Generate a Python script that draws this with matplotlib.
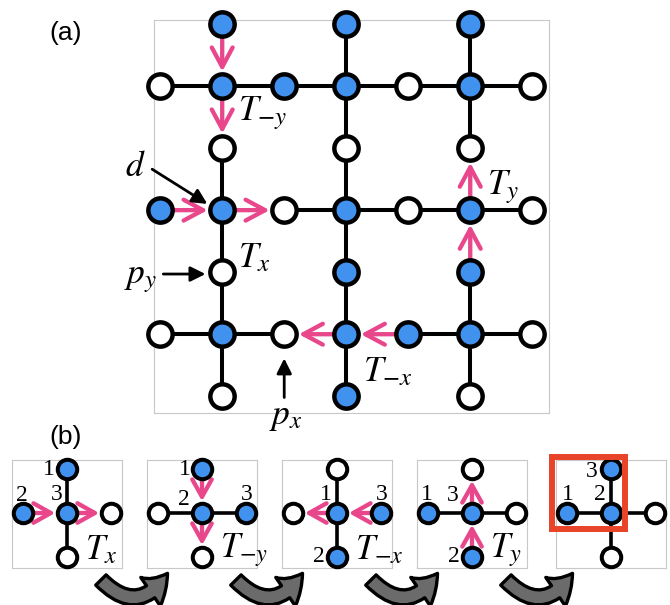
import matplotlib
matplotlib.use('Agg')
import matplotlib.pyplot as plt
from matplotlib.patches import FancyArrowPatch, Rectangle

plt.rcParams['mathtext.fontset'] = 'stix'
plt.rcParams['font.family'] = ['Liberation Sans', 'DejaVu Sans']

# ---------------- data ----------------
# Panel (a) lattice: rows top -> bottom; '.' no site, 'B' occupied (blue), 'W' empty (white)
lattice_a = [
    ". B . B . B .",
    "W B B B W B W",
    ". W . W . W .",
    "B B W B W B W",
    ". W . B . B .",
    "W B W B B B W",
    ". W . B . W .",
]
# hopping arrows (col,row) -> (col,row)
arrows_a = [((1, 0), (1, 1)), ((1, 1), (1, 2)),
            ((0, 3), (1, 3)), ((1, 3), (2, 3)),
            ((4, 5), (3, 5)), ((3, 5), (2, 5)),
            ((5, 4), (5, 3)), ((5, 3), (5, 2))]
labels_a = ["$T_{-y}$", "$T_x$", "$T_y$", "$T_{-x}$"]
labels_a_pos = [(1.26, 1.44), (1.26, 3.77), (5.27, 2.63), (3.27, 5.60)]

# Panel (b) mini lattices (3x3, center = d site)
panels_b = [
    [". B .", "B B W", ". W ."],
    [". B .", "W B B", ". W ."],
    [". W .", "W B B", ". B ."],
    [". W .", "B B W", ". B ."],
    [". B .", "B B W", ". W ."],
]
arrows_b = [
    [((0, 1), (1, 1)), ((1, 1), (2, 1))],
    [((1, 0), (1, 1)), ((1, 1), (1, 2))],
    [((2, 1), (1, 1)), ((1, 1), (0, 1))],
    [((1, 2), (1, 1)), ((1, 1), (1, 0))],
    [],
]
op_labels_b = ["$T_x$", "$T_{-y}$", "$T_{-x}$", "$T_y$", ""]
numbers_b = [["1", "2", "3"], ["1", "2", "3"], ["1", "3", "2"], ["3", "2", "1"], ["3", "1", "2"]]
numbers_b_pos = [
    [(-0.41, -0.98), (-1.02, -0.39), (-0.23, -0.41)],
    [(-0.39, -0.98), (-0.41, -0.30), (1.02, -0.41)],
    [(-0.25, -0.41), (1.02, -0.41), (-0.41, 0.98)],
    [(-0.43, -0.39), (-0.41, 1.0), (-1.02, -0.41)],
    [(-0.43, -0.95), (-0.98, -0.41), (-0.25, -0.41)],
]

# ---------------- style ----------------
BLUE = '#4191EF'
PINK = '#E8478C'
RED = '#E8442A'
FRAME = '#c8c8c8'
W, H = 670, 605

fig = plt.figure(figsize=(W / 100, H / 100), dpi=100)


def parse(grid):
    sites = {}
    for r, line in enumerate(grid):
        for c, ch in enumerate(line.split()):
            if ch != '.':
                sites[(c, r)] = ch
    return sites


def draw_lattice(ax, sites, arrows, ms, mew, blw, off=0.0, head=(13, 7), shrink=10.5):
    arrow_set = set()
    for a, b in arrows:
        arrow_set.add((a, b)); arrow_set.add((b, a))
    # bonds
    for (c, r) in sites:
        for nb in [(c + 1, r), (c, r + 1)]:
            if nb in sites and ((c, r), nb) not in arrow_set:
                ax.plot([c - off, nb[0] - off], [r - off, nb[1] - off], color='black',
                        lw=blw, solid_capstyle='butt', zorder=1, clip_on=False)
    # arrows
    for a, b in arrows:
        p = FancyArrowPatch((a[0] - off, a[1] - off), (b[0] - off, b[1] - off),
                            arrowstyle='->,head_length=%g,head_width=%g' % head,
                            color=PINK, lw=3.1, shrinkA=0, shrinkB=shrink,
                            mutation_scale=1, zorder=2, clip_on=False)
        ax.add_patch(p)
    # sites
    for (c, r), s in sites.items():
        ax.plot(c - off, r - off, 'o', ms=ms, mfc=BLUE if s == 'B' else 'white',
                mec='black', mew=mew, zorder=3, clip_on=False)


def frame(ax):
    ax.set_xticks([]); ax.set_yticks([])
    for sp in ax.spines.values():
        sp.set_color(FRAME); sp.set_linewidth(0.8)
    ax.patch.set_alpha(0)


# ---------------- panel (a) ----------------
ax = fig.add_axes([154 / W, 1 - 413 / H, (549 - 154) / W, (413 - 20) / H])
ax.set_xlim(-0.1, 6.27); ax.set_ylim(6.27, -0.065)
frame(ax)
draw_lattice(ax, parse(lattice_a), arrows_a, ms=17.5, mew=3.2, blw=2.9, head=(14, 7.5))
for t, (x, y) in zip(labels_a, labels_a_pos):
    ax.text(x, y, t, fontsize=25.5, ha='left', va='center', zorder=5)

AH = '-|>,head_length=9,head_width=4.5'
ax.text(-0.40, 2.30, "$d$", fontsize=25.5, ha='center', va='center')
ax.add_patch(FancyArrowPatch((-0.13, 2.34), (0.76, 2.90), arrowstyle=AH,
                             color='black', lw=2.0, shrinkA=0, shrinkB=0, mutation_scale=1, clip_on=False, zorder=4))
ax.text(-0.31, 4.10, "$p_y$", fontsize=25.5, ha='center', va='center')
ax.add_patch(FancyArrowPatch((0.05, 4.03), (0.73, 4.03), arrowstyle=AH,
                             color='black', lw=2.0, shrinkA=0, shrinkB=0, mutation_scale=1, clip_on=False, zorder=4))
ax.text(2.03, 6.32, "$p_x$", fontsize=25.5, ha='center', va='center')
ax.add_patch(FancyArrowPatch((2.0, 6.02), (2.0, 5.39), arrowstyle=AH,
                             color='black', lw=2.0, shrinkA=0, shrinkB=0, mutation_scale=1, clip_on=False, zorder=4))

# ---------------- panel (b) ----------------
centers_b = [67, 202, 337, 472, 611]
sp_b = 44.0
for i, cx in enumerate(centers_b):
    axb = fig.add_axes([(cx - 55) / W, 1 - 568 / H, 110 / W, 108 / H])
    axb.set_xlim(-55 / sp_b, 55 / sp_b); axb.set_ylim(55 / sp_b, -53 / sp_b)
    frame(axb)
    draw_lattice(axb, parse(panels_b[i]), arrows_b[i], ms=14, mew=2.9, blw=2.6, off=1.0,
                 head=(12.5, 7), shrink=8.5)
    for t, (x, y) in zip(numbers_b[i], numbers_b_pos[i]):
        axb.text(x, y, t, fontsize=17, family='Liberation Serif', ha='center', va='center', zorder=5)
    if op_labels_b[i]:
        axb.text(0.40, 0.84, op_labels_b[i], fontsize=25, ha='left', va='center', zorder=5)
    if i == 4:
        axb.add_patch(Rectangle((-1.34, -1.27), 1.66, 1.63, fill=False, ec=RED, lw=4.3,
                                clip_on=False, zorder=6))

# ---------------- overlay: labels + curved arrows ----------------
ov = fig.add_axes([0, 0, 1, 1])
ov.set_xlim(0, W); ov.set_ylim(H, 0); ov.axis('off')
ov.text(66, 33, "(a)", fontsize=19, ha='center', va='center')
ov.text(66, 437, "(b)", fontsize=19, ha='center', va='center')
for cx in centers_b[:-1]:
    arr = FancyArrowPatch((cx + 32, 578), (cx + 102, 571), connectionstyle='arc3,rad=0.65',
                          arrowstyle='simple,head_length=18,head_width=25,tail_width=10.5',
                          mutation_scale=1, fc='#6b6b6b', ec='black', lw=2.4, zorder=10)
    ov.add_patch(arr)

fig.savefig('out.png', dpi=100)
